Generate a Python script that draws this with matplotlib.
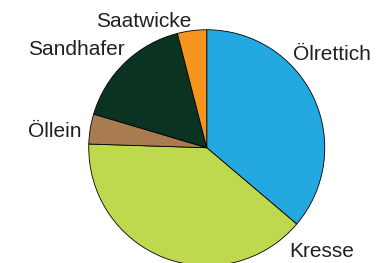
import matplotlib.pyplot as plt

# Anteile der Zwischenfrüchte (in %, aus der Grafik geschätzt)
labels = ['Ölrettich', 'Kresse', 'Öllein', 'Sandhafer', 'Saatwicke']
shares = [36.2, 39.3, 4.1, 16.4, 4.0]
colors = ['#24A8E0', '#BED94E', '#A87B50', '#0A3322', '#F7941D']

plt.rcParams['font.family'] = ['Liberation Sans', 'DejaVu Sans']

fig = plt.figure(figsize=(3.9, 2.63), dpi=100)
ax = fig.add_axes([0, 0, 1, 1])

ax.pie(shares, colors=colors, startangle=90, counterclock=False,
       radius=1, wedgeprops={'edgecolor': 'black', 'linewidth': 0.6})

# Beschriftungen (Position in Einheiten des Kreisradius)
label_pos = {
    'Ölrettich': (0.731, 0.743, 'left'),
    'Kresse': (0.701, -0.924, 'left'),
    'Öllein': (-1.059, 0.093, 'right'),
    'Sandhafer': (-0.692, 0.786, 'right'),
    'Saatwicke': (-0.127, 1.025, 'right'),
}
for name in labels:
    x, y, ha = label_pos[name]
    ax.text(x, y, name, ha=ha, va='baseline', fontsize=15, color='#231F20')

ax.set_xlim(-1.752, 1.553)
ax.set_ylim(-0.977, 1.252)
ax.set_aspect('auto')
ax.axis('off')

fig.savefig('out.png', dpi=100)
